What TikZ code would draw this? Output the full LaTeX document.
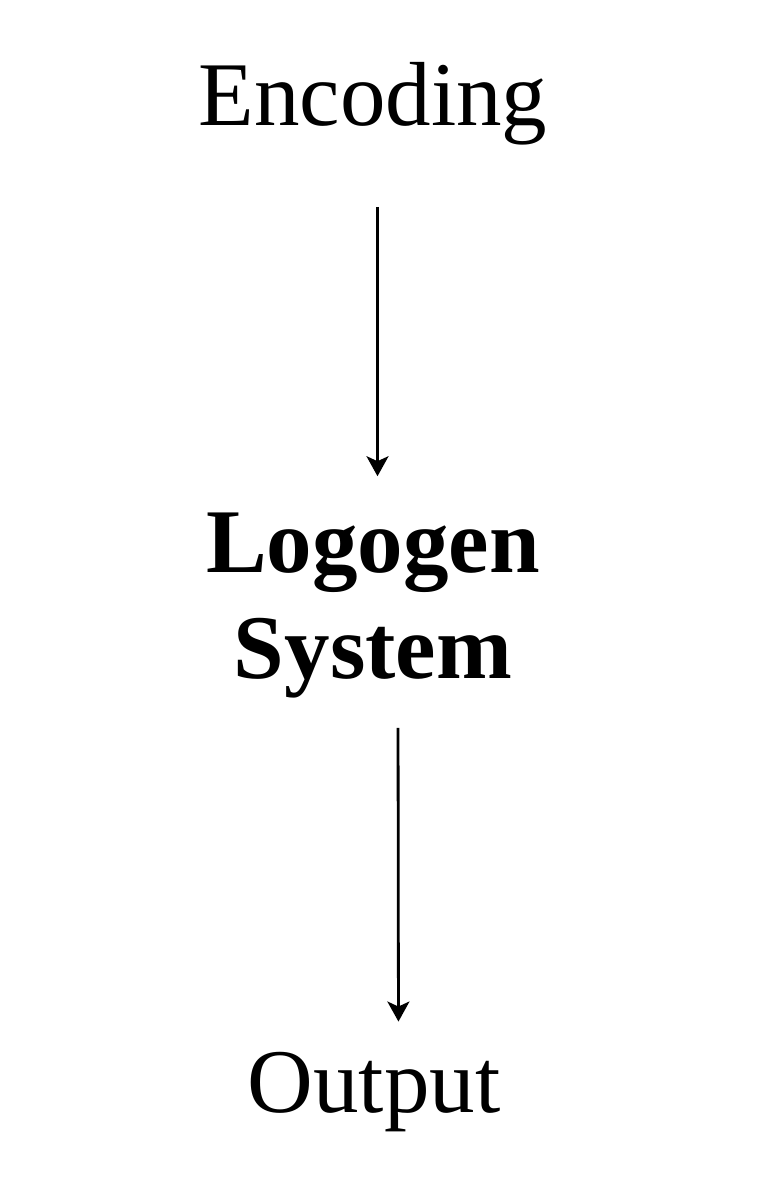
\documentclass[tikz,border=0pt]{standalone}
\usepackage{fontspec}
\setmainfont{Liberation Serif}
\usetikzlibrary{arrows.meta}

\begin{document}
\begin{tikzpicture}[x=1pt,y=-1pt,
    lbl/.style={inner sep=0pt, anchor=base, align=center, font=\fontsize{91}{106}\selectfont},
    arr/.style={-{Stealth[length=20pt,width=22pt,inset=5pt]}, line width=2.8pt}]
    \useasboundingbox (0,0) rectangle (776,1200);
    \node[lbl] (enc) at (373,125) {Encoding};
    \node[lbl, font=\fontsize{91}{106}\selectfont\bfseries] (logo) at (373,678) {Logogen\\System};
    \node[lbl] (out) at (374,1112) {Output};
    \draw[arr, shorten <=62pt, shorten >=36pt] ([xshift=4.5pt]enc.south) -- ([xshift=4.5pt]logo.north);
    \draw[arr, shorten <=30pt, shorten >=30pt] ([xshift=25pt]logo.south) -- ([xshift=24.5pt]out.north);
\end{tikzpicture}
\end{document}
